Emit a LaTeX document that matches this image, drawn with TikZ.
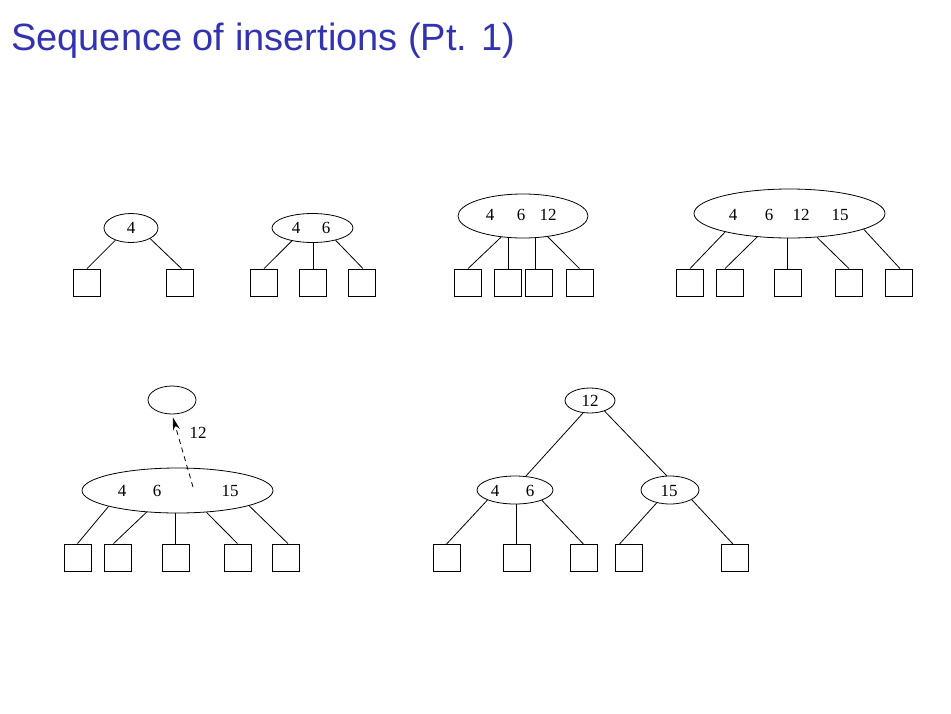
\documentclass[tikz,border=0pt]{standalone}
\usepackage{fontspec}
\setmainfont{Liberation Serif}
\newfontfamily\titlefont{Liberation Sans}
\usetikzlibrary{shapes.geometric,arrows.meta}
\definecolor{titleblue}{rgb}{0.2,0.2,0.7}
\begin{document}
\begin{tikzpicture}[x=1pt,y=-1pt,
  knode/.style={draw,ellipse,inner sep=0pt,line width=0.8pt},
  leaf/.style={draw,rectangle,minimum size=27pt,inner sep=0pt,line width=0.8pt},
  key/.style={font=\fontsize{17}{17}\selectfont,inner sep=0pt},
  edge/.style={line width=0.8pt}]
\useasboundingbox (0,0) rectangle (951,713);
% title
\node[anchor=base west,inner sep=0pt,text=titleblue,font=\titlefont\fontsize{38}{38}\selectfont] (title) at (11,50) {Sequence of insertions (Pt. 1)};

% ---------- tree 1
\node[knode,minimum width=54pt,minimum height=29pt] (e1) at (131,228) {};
\node[key] (t11) at (131,228) {4};
\node[leaf] (s11) at (87,282.5) {};
\node[leaf] (s12) at (179.5,282.5) {};
\draw[edge] (e1.218) -- (s11.north);
\draw[edge] (e1.331) -- ([xshift=2pt]s12.north);

% ---------- tree 2
\node[knode,minimum width=81pt,minimum height=29pt] (e2) at (312.5,228) {};
\node[key] (t21) at (296,228) {4};
\node[key] (t22) at (326,228) {6};
\node[leaf] (s21) at (264,282.5) {};
\node[leaf] (s22) at (313,282.5) {};
\node[leaf] (s23) at (361.5,282.5) {};
\draw[edge] (e2.212) -- (s21.north);
\draw[edge] (s22.north) -- (s22.north |- e2.south);
\draw[edge] (e2.332) -- ([xshift=1.5pt]s23.north);

% ---------- tree 3
\node[knode,minimum width=130pt,minimum height=44pt] (e3) at (523,216) {};
\node[key] (t31) at (490,215) {4};
\node[key] (t32) at (521,215) {6};
\node[key] (t33) at (548,215) {12};
\node[leaf] (s31) at (468,282.5) {};
\node[leaf] (s32) at (508,282.5) {};
\node[leaf] (s33) at (539,282.5) {};
\node[leaf] (s34) at (579.5,282.5) {};
\draw[edge] (e3.224) -- (s31.north);
\draw[edge] (s32.north) -- (s32.north |- e3.south);
\draw[edge] ([xshift=-4pt]s33.north) -- ([xshift=-4pt,yshift=0.6pt]s33.north |- e3.south);
\draw[edge] (e3.320) -- (s34.north);

% ---------- tree 4
\node[knode,minimum width=191pt,minimum height=49pt] (e4) at (789.5,213.5) {};
\node[key] (t41) at (733,215) {4};
\node[key] (t42) at (769,215) {6};
\node[key] (t43) at (801,215) {12};
\node[key] (t44) at (840,215) {15};
\node[leaf] (s41) at (690,282.5) {};
\node[leaf] (s42) at (730,282.5) {};
\node[leaf] (s43) at (787.5,282.5) {};
\node[leaf] (s44) at (849,282.5) {};
\node[leaf] (s45) at (898.5,282.5) {};
\draw[edge] (e4.196) -- (s41.north);
\draw[edge] (e4.216) -- ([xshift=-5pt]s42.north);
\draw[edge] (s43.north) -- (s43.north |- e4.south);
\draw[edge] (e4.319) -- (s44.north);
\draw[edge] (e4.348) -- ([xshift=1.5pt]s45.north);

% ---------- tree 5
\node[knode,minimum width=48pt,minimum height=28pt] (e5t) at (172,400) {};
\node[knode,minimum width=191pt,minimum height=45pt] (e5) at (177.5,490.5) {};
\node[key] (t51) at (122,491) {4};
\node[key] (t52) at (157,491) {6};
\node[key] (t53) at (230,491) {15};
\coordinate (a5) at (193,487);
\draw[edge,dash pattern=on 5pt off 4pt,-{Stealth[length=13pt,width=7pt]},shorten >=3pt] (a5) -- (e5t.south);
\node[key] (l5) at (198,433) {12};
\node[leaf] (s51) at (77.5,557.5) {};
\node[leaf] (s52) at (117.5,557.5) {};
\node[leaf] (s53) at (175.5,557.5) {};
\node[leaf] (s54) at (237.5,557.5) {};
\node[leaf] (s55) at (286,557.5) {};
\draw[edge] (e5.193) -- (s51.north);
\draw[edge] (e5.215) -- ([xshift=-4pt]s52.north);
\draw[edge] (s53.north) -- (s53.north |- e5.south);
\draw[edge] (e5.323) -- (s54.north);
\draw[edge] (e5.348) -- ([xshift=2pt]s55.north);

% ---------- tree 6
\node[knode,minimum width=50pt,minimum height=25pt] (r6) at (590,400.5) {};
\node[key] (t61) at (590,401) {12};
\node[knode,minimum width=76pt,minimum height=28pt] (c6l) at (515,490) {};
\node[key] (t62) at (495,491) {4};
\node[key] (t63) at (530,491) {6};
\node[knode,minimum width=58pt,minimum height=28pt] (c6r) at (670,490) {};
\node[key] (t64) at (669,491) {15};
\draw[edge] (r6.241) -- (c6l.52);
\draw[edge] (r6.324) -- (c6r.103);
\node[leaf] (s61) at (446.5,558) {};
\node[leaf] (s62) at (516.5,558) {};
\node[leaf] (s63) at (583.5,558) {};
\node[leaf] (s64) at (628.5,558) {};
\node[leaf] (s65) at (735,558) {};
\draw[edge] (c6l.200) -- (s61.north);
\draw[edge] (s62.north) -- (s62.north |- c6l.south);
\draw[edge] (c6l.339) -- (s63.north);
\draw[edge] (c6r.224) -- ([xshift=-9pt]s64.north);
\draw[edge] (c6r.336) -- ([xshift=-2pt]s65.north);
\end{tikzpicture}
\end{document}
